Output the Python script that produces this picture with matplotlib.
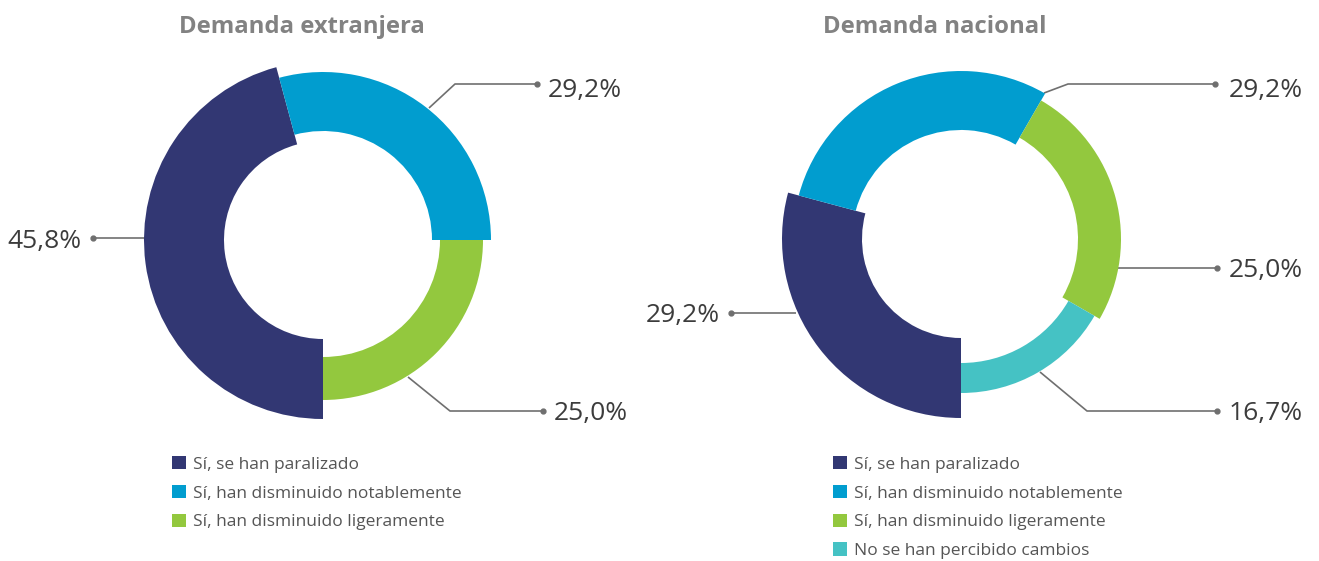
import numpy as np
import matplotlib
matplotlib.use("Agg")
import matplotlib.pyplot as plt

plt.rcParams['font.family'] = ['Open Sans', 'DejaVu Sans']

# --- data ---
categorias = ['Sí, se han paralizado',
              'Sí, han disminuido notablemente',
              'Sí, han disminuido ligeramente',
              'No se han percibido cambios']
extranjera = [45.8, 29.2, 25.0]
nacional = [29.2, 29.2, 25.0, 16.7]
titulos = ['Demanda extranjera', 'Demanda nacional']

# --- style ---
colores = ['#323773', '#019dcf', '#93c83e', '#45c2c4']
radio_int = [99, 109, 117, 124]
radio_ext = [179, 168, 160, 154]
W, H = 1319, 561
S = 190  # half size (px) of each polar axes

fig = plt.figure(figsize=(W / 100, H / 100), dpi=100)
ov = fig.add_axes([0, 0, 1, 1])
ov.set_xlim(0, W)
ov.set_ylim(H, 0)
ov.axis('off')


def donut(cx, cy, valores):
    """Dibuja un donut con radios distintos por categoria"""
    ax = fig.add_axes([(cx - S) / W, (H - cy - S) / H, 2 * S / W, 2 * S / H],
                      projection='polar')
    ax.set_theta_zero_location('S')
    ax.set_theta_direction(-1)
    ax.set_ylim(0, S)
    ax.set_axis_off()
    n = len(valores)
    frac = np.array(valores) / np.sum(valores)
    ancho = frac * 2 * np.pi
    inicio = np.concatenate([[0], np.cumsum(ancho)[:-1]])
    bars = ax.bar(inicio + ancho / 2, np.array(radio_ext[:n]) - np.array(radio_int[:n]),
                  width=ancho, bottom=radio_int[:n], color=colores[:n],
                  edgecolor='none', align='center')
    return ax, bars


def etiqueta(puntos, texto, tx, ty, ha='left'):
    xs, ys = zip(*puntos)
    ov.plot(xs, ys, color='#6f6f6f', lw=1.2, solid_capstyle='butt')
    ov.plot(xs[-1], ys[-1], 'o', color='#6f6f6f', ms=3.5)
    ov.text(tx, ty, texto, ha=ha, va='baseline', fontsize=19, color='#3c3c3c')


def fmt(v):
    return f"{v:.1f}%".replace('.', ',')


def leyenda(ax, bars, labels, x0):
    ax.legend(bars, labels, loc='upper left',
              bbox_to_anchor=(x0 / W, 1 - 456 / H), bbox_transform=fig.transFigure,
              frameon=False, fontsize=12.5, labelcolor='#555555',
              handlelength=0.8, handleheight=0.8, handletextpad=0.4,
              labelspacing=0.7, borderpad=0, borderaxespad=0)


# Demanda extranjera
ax1, bars1 = donut(323, 240, extranjera)
etiqueta([(429, 108), (455, 84), (537, 84)], fmt(extranjera[1]), 548, 97)
etiqueta([(408, 377), (450, 411), (543, 411)], fmt(extranjera[2]), 554, 420)
etiqueta([(145, 238), (93, 238)], fmt(extranjera[0]), 82, 248, ha='right')
ov.text(302, 33, titulos[0], ha='center', va='baseline', fontsize=17.2,
        fontweight='bold', color='#828282')
leyenda(ax1, bars1, categorias[:3], 172)

# Demanda nacional
ax2, bars2 = donut(961, 239, nacional)
etiqueta([(1044, 93), (1068, 84), (1215, 84)], fmt(nacional[1]), 1229, 97)
etiqueta([(1118, 268), (1217, 268)], fmt(nacional[2]), 1229, 277)
etiqueta([(1040, 372), (1087, 411), (1217, 411)], fmt(nacional[3]), 1229, 420)
etiqueta([(796, 313), (731, 313)], fmt(nacional[0]), 720, 322, ha='right')
ov.text(935, 33, titulos[1], ha='center', va='baseline', fontsize=17.2,
        fontweight='bold', color='#828282')
leyenda(ax2, bars2, categorias, 833)

fig.savefig('out.png', dpi=100)
